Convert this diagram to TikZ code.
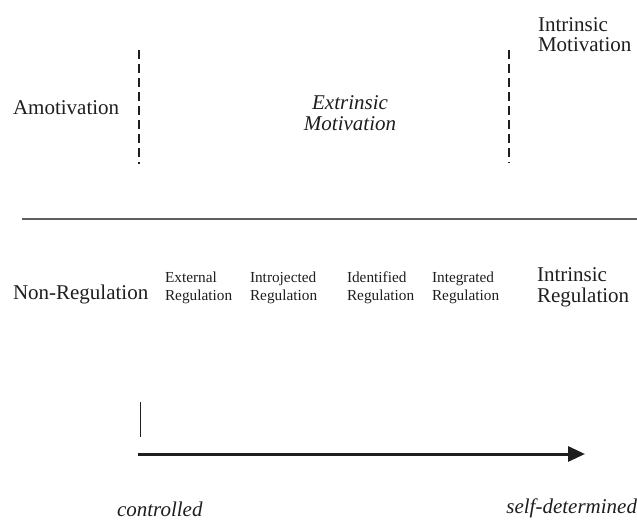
\documentclass[tikz,border=0pt]{standalone}
\usepackage{fontspec}
\setmainfont{Liberation Serif}
\usetikzlibrary{arrows.meta}
\definecolor{ink}{HTML}{1E1E1E}
\definecolor{rule}{HTML}{5E5E5E}
\newcommand{\stk}[1]{\begin{tabular}[t]{@{}l@{}}#1\end{tabular}}
\newcommand{\stkc}[1]{\begin{tabular}[t]{@{}c@{}}#1\end{tabular}}
\tikzset{
  lbl/.style={inner sep=0pt, outer sep=0pt, text=ink, anchor=base west},
  big/.style={font=\fontsize{21}{18.5}\selectfont},
  small/.style={font=\fontsize{15.3}{18}\selectfont},
  divider/.style={draw=ink, line width=2pt, dash pattern=on 9pt off 5pt},
  hrule/.style={draw=rule, line width=2pt},
  tick/.style={draw=ink, line width=1pt},
  axis/.style={draw=ink, line width=3pt, -{Triangle[length=17pt,width=15pt]}},
}
\begin{document}
\begin{tikzpicture}[x=1pt,y=1pt]
\useasboundingbox (0,0) rectangle (637,-521);
% dashed dividers
\coordinate (d1t) at (139,-50); \coordinate (d1b) at (139,-164);
\coordinate (d2t) at (509,-50); \coordinate (d2b) at (509,-163);
\draw[divider] (d1t) -- (d1b);
\draw[divider] (d2t) -- (d2b);
% top labels
\node[lbl, big] (amot) at (13,-115) {Amotivation};
\node[lbl, anchor=base, font=\fontsize{21}{21}\selectfont\itshape] (extmot) at (350,-110) {\stkc{Extrinsic\\Motivation}};
\node[lbl, font=\fontsize{21}{20}\selectfont] (intmot) at (538,-32) {\stk{Intrinsic\\Motivation}};
% rule
\coordinate (hl) at (22,-219); \coordinate (hr) at (637,-219);
\draw[hrule] (hl) -- (hr);
% regulation labels
\node[lbl, big] (nonreg) at (13,-300) {Non-Regulation};
\node[lbl, small] (extreg) at (165,-283) {\stk{External\\Regulation}};
\node[lbl, small] (intro) at (250,-283) {\stk{Introjected\\Regulation}};
\node[lbl, small] (ident) at (347,-283) {\stk{Identified\\Regulation}};
\node[lbl, small] (integ) at (432,-283) {\stk{Integrated\\Regulation}};
\node[lbl, big] (intreg) at (537,-282) {\stk{Intrinsic\\Regulation}};
% axis
\coordinate (tt) at (140.7,-402); \coordinate (tb) at (140.7,-437);
\draw[tick] (tt) -- (tb);
\coordinate (a1) at (138,-454); \coordinate (a2) at (585,-454);
\draw[axis] (a1) -- (a2);
\node[lbl, font=\fontsize{21}{24}\selectfont\itshape] (ctrl) at (117,-516) {controlled};
\node[lbl, anchor=base east, font=\fontsize{21}{24}\selectfont\itshape] (selfd) at (637,-513) {self-determined};
\end{tikzpicture}
\end{document}
